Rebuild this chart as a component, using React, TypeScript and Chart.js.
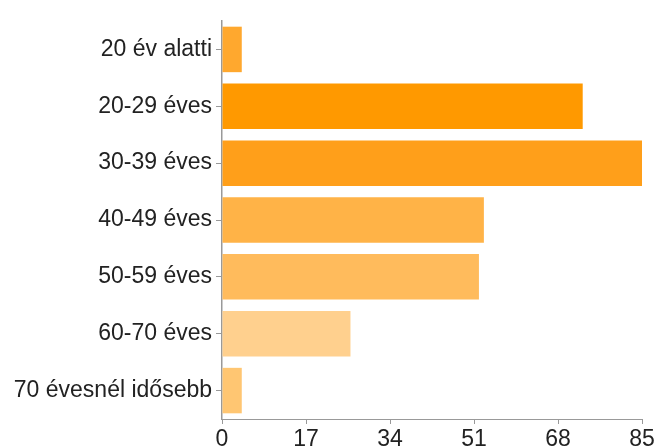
import React, { useEffect, useRef } from "react";
import { Chart, registerables } from "chart.js";

Chart.register(...registerables);

const categories = [
  "20 év alatti",
  "20-29 éves",
  "30-39 éves",
  "40-49 éves",
  "50-59 éves",
  "60-70 éves",
  "70 évesnél idősebb",
];
const values = [4, 73, 85, 53, 52, 26, 4];
const barColors = [
  "#ffa82e",
  "#ff9900",
  "#ff9f1a",
  "#ffb347",
  "#ffbb5c",
  "#ffd08e",
  "#ffc672",
];
const xTicks = [0, 17, 34, 51, 68, 85];

export default function App() {
  const ref = useRef<HTMLCanvasElement | null>(null);
  useEffect(() => {
    if (!ref.current) return;
    const font = { family: "'Liberation Sans', Arial, Helvetica, sans-serif", size: 23 };
    const chart = new Chart(ref.current, {
      type: "bar",
      data: {
        labels: categories,
        datasets: [
          {
            data: values,
            backgroundColor: barColors,
            borderWidth: 0,
            barPercentage: 0.8,
            categoryPercentage: 1,
          },
        ],
      },
      options: {
        indexAxis: "y",
        animation: false,
        responsive: false,
        maintainAspectRatio: false,
        layout: { padding: { top: 21, right: 15, left: 0, bottom: 0 } },
        plugins: { legend: { display: false }, tooltip: { enabled: false } },
        scales: {
          x: {
            min: 0,
            max: 85,
            afterBuildTicks: (scale: any) => {
              scale.ticks = xTicks.map((v) => ({ value: v }));
            },
            afterFit: (scale: any) => {
              scale.height = 28;
            },
            ticks: { color: "#222", font, padding: 2, maxRotation: 0, autoSkip: false },
            grid: {
              drawOnChartArea: false,
              drawTicks: true,
              tickLength: 5,
              color: "#999",
            },
            border: { display: true, color: "#999", width: 1 },
          },
          y: {
            afterFit: (scale: any) => {
              scale.width = 222;
            },
            ticks: { color: "#222", font, padding: 4, autoSkip: false },
            grid: {
              offset: false,
              drawOnChartArea: false,
              drawTicks: true,
              tickLength: 6,
              color: "#999",
            },
            border: { display: true, color: "#999", width: 1.5 },
          },
        },
      },
    } as any);
    return () => chart.destroy();
  }, []);
  return (
    <div style={{ position: "absolute", left: 0, top: 0, width: 657, height: 447, background: "#fff" }}>
      <canvas ref={ref} width={657} height={447} style={{ width: 657, height: 447 }} />
    </div>
  );
}
